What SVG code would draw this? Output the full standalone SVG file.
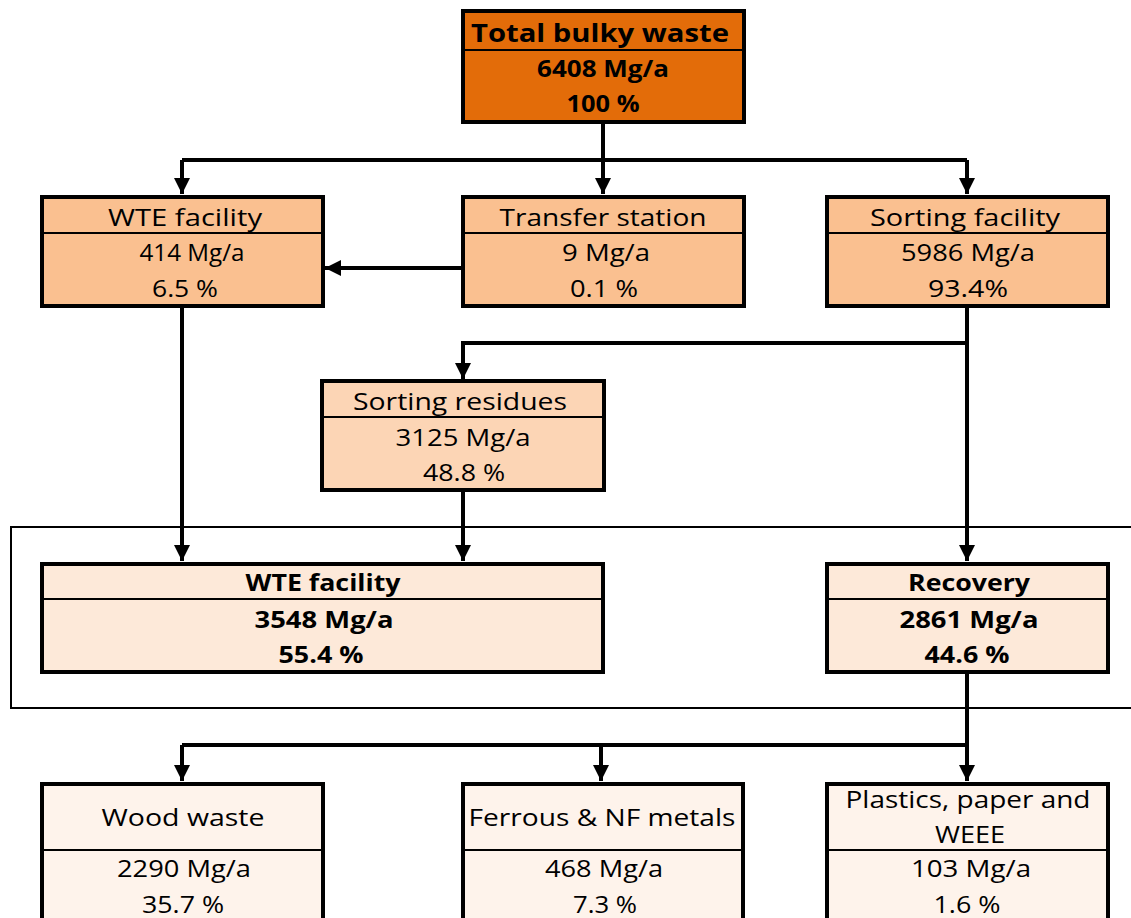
<svg xmlns="http://www.w3.org/2000/svg" width="1131" height="918" viewBox="0 0 1131 918">
<defs>
<style>
.box{stroke:#000;stroke-width:4}
.div{stroke:#000;stroke-width:2}
.c{fill:none;stroke:#000;stroke-width:4}
text{font-family:"Open Sans","Noto Sans","Liberation Sans",sans-serif;fill:#000;text-anchor:middle;font-size:24px}
.b{font-weight:bold}
</style>
<marker id="ah" markerUnits="userSpaceOnUse" markerWidth="16" markerHeight="16" viewBox="0 0 16 16" refX="16" refY="8" orient="auto">
<path d="M0,0 L16,8 L0,16 Z" fill="#000"/>
</marker>
</defs>
<rect width="1131" height="918" fill="#fff"/>
<path d="M1131,527 H11 V708 H1131" fill="none" stroke="#000" stroke-width="2"/>
<g id="connectors">
<path class="c" d="M603,123 V160"/>
<path class="c" d="M182,160 H967"/>
<path class="c" d="M182,160 V194" marker-end="url(#ah)"/>
<path class="c" d="M603,160 V194" marker-end="url(#ah)"/>
<path class="c" d="M967,160 V194" marker-end="url(#ah)"/>
<path class="c" d="M462,268 H325" marker-end="url(#ah)"/>
<path class="c" d="M182,307 V561" marker-end="url(#ah)"/>
<path class="c" d="M967,307 V561" marker-end="url(#ah)"/>
<path class="c" d="M967,343 H463 V379" marker-end="url(#ah)"/>
<path class="c" d="M463,491 V561" marker-end="url(#ah)"/>
<path class="c" d="M967,673 V745"/>
<path class="c" d="M182,745 H967"/>
<path class="c" d="M182,745 V781" marker-end="url(#ah)"/>
<path class="c" d="M601,745 V781" marker-end="url(#ah)"/>
<path class="c" d="M967,745 V781" marker-end="url(#ah)"/>
</g>
<g id="total">
<rect class="box" x="463" y="11" width="281" height="111" fill="#E36C09"/>
<line class="div" x1="463" y1="50" x2="744" y2="50"/>
<text class="b" x="600" y="42" style="font-size:25px" textLength="258" lengthAdjust="spacingAndGlyphs">Total bulky waste</text>
<text class="b" x="603" y="77" textLength="132" lengthAdjust="spacingAndGlyphs">6408 Mg/a</text>
<text class="b" x="603" y="112" textLength="73" lengthAdjust="spacingAndGlyphs">100 %</text>
</g>
<g id="wte1">
<rect class="box" x="42" y="197" width="281" height="109" fill="#FAC090"/>
<line class="div" x1="42" y1="233" x2="323" y2="233"/>
<text x="185" y="226" textLength="154" lengthAdjust="spacingAndGlyphs">WTE facility</text>
<text x="192" y="261" textLength="105" lengthAdjust="spacingAndGlyphs">414 Mg/a</text>
<text x="185" y="297" textLength="66" lengthAdjust="spacingAndGlyphs">6.5 %</text>
</g>
<g id="transfer">
<rect class="box" x="463" y="197" width="281" height="109" fill="#FAC090"/>
<line class="div" x1="463" y1="233" x2="744" y2="233"/>
<text x="603" y="226" textLength="207" lengthAdjust="spacingAndGlyphs">Transfer station</text>
<text x="606" y="261" textLength="88" lengthAdjust="spacingAndGlyphs">9 Mg/a</text>
<text x="604" y="297" textLength="68" lengthAdjust="spacingAndGlyphs">0.1 %</text>
</g>
<g id="sorting">
<rect class="box" x="827" y="197" width="281" height="109" fill="#FAC090"/>
<line class="div" x1="827" y1="233" x2="1108" y2="233"/>
<text x="965" y="226" textLength="190" lengthAdjust="spacingAndGlyphs">Sorting facility</text>
<text x="968" y="261" textLength="134" lengthAdjust="spacingAndGlyphs">5986 Mg/a</text>
<text x="968" y="297" textLength="80" lengthAdjust="spacingAndGlyphs">93.4%</text>
</g>
<g id="residues">
<rect class="box" x="322" y="381" width="282" height="109" fill="#FCD5B5"/>
<line class="div" x1="322" y1="417" x2="604" y2="417"/>
<text x="460" y="410" textLength="214" lengthAdjust="spacingAndGlyphs">Sorting residues</text>
<text x="463" y="446" textLength="135" lengthAdjust="spacingAndGlyphs">3125 Mg/a</text>
<text x="464" y="481" textLength="82" lengthAdjust="spacingAndGlyphs">48.8 %</text>
</g>
<g id="wte2">
<rect class="box" x="42" y="564" width="561" height="108" fill="#FDE9D9"/>
<line class="div" x1="42" y1="599" x2="603" y2="599"/>
<text class="b" x="323" y="591" textLength="155" lengthAdjust="spacingAndGlyphs">WTE facility</text>
<text class="b" x="324" y="628" textLength="139" lengthAdjust="spacingAndGlyphs">3548 Mg/a</text>
<text class="b" x="321" y="663" textLength="85" lengthAdjust="spacingAndGlyphs">55.4 %</text>
</g>
<g id="recovery">
<rect class="box" x="827" y="564" width="281" height="108" fill="#FDE9D9"/>
<line class="div" x1="827" y1="599" x2="1108" y2="599"/>
<text class="b" x="969" y="591" textLength="122" lengthAdjust="spacingAndGlyphs">Recovery</text>
<text class="b" x="969" y="628" textLength="139" lengthAdjust="spacingAndGlyphs">2861 Mg/a</text>
<text class="b" x="967" y="663" textLength="85" lengthAdjust="spacingAndGlyphs">44.6 %</text>
</g>
<g id="wood">
<rect class="box" x="42" y="784" width="281" height="150" fill="#FEF3EB"/>
<line class="div" x1="42" y1="850" x2="323" y2="850"/>
<text x="183" y="826" textLength="163" lengthAdjust="spacingAndGlyphs">Wood waste</text>
<text x="184" y="877" textLength="134" lengthAdjust="spacingAndGlyphs">2290 Mg/a</text>
<text x="183" y="913" textLength="82" lengthAdjust="spacingAndGlyphs">35.7 %</text>
</g>
<g id="metals">
<rect class="box" x="463" y="784" width="280" height="150" fill="#FEF3EB"/>
<line class="div" x1="463" y1="850" x2="743" y2="850"/>
<text x="602" y="826" textLength="267" lengthAdjust="spacingAndGlyphs">Ferrous &amp; NF metals</text>
<text x="604" y="877" textLength="118" lengthAdjust="spacingAndGlyphs">468 Mg/a</text>
<text x="605" y="913" textLength="64" lengthAdjust="spacingAndGlyphs">7.3 %</text>
</g>
<g id="plastics">
<rect class="box" x="827" y="784" width="281" height="150" fill="#FEF3EB"/>
<line class="div" x1="827" y1="850" x2="1108" y2="850"/>
<text x="968" y="808" textLength="245" lengthAdjust="spacingAndGlyphs">Plastics, paper and</text>
<text x="970" y="843" textLength="70" lengthAdjust="spacingAndGlyphs">WEEE</text>
<text x="971" y="877" textLength="120" lengthAdjust="spacingAndGlyphs">103 Mg/a</text>
<text x="967" y="913" textLength="67" lengthAdjust="spacingAndGlyphs">1.6 %</text>
</g>
</svg>
